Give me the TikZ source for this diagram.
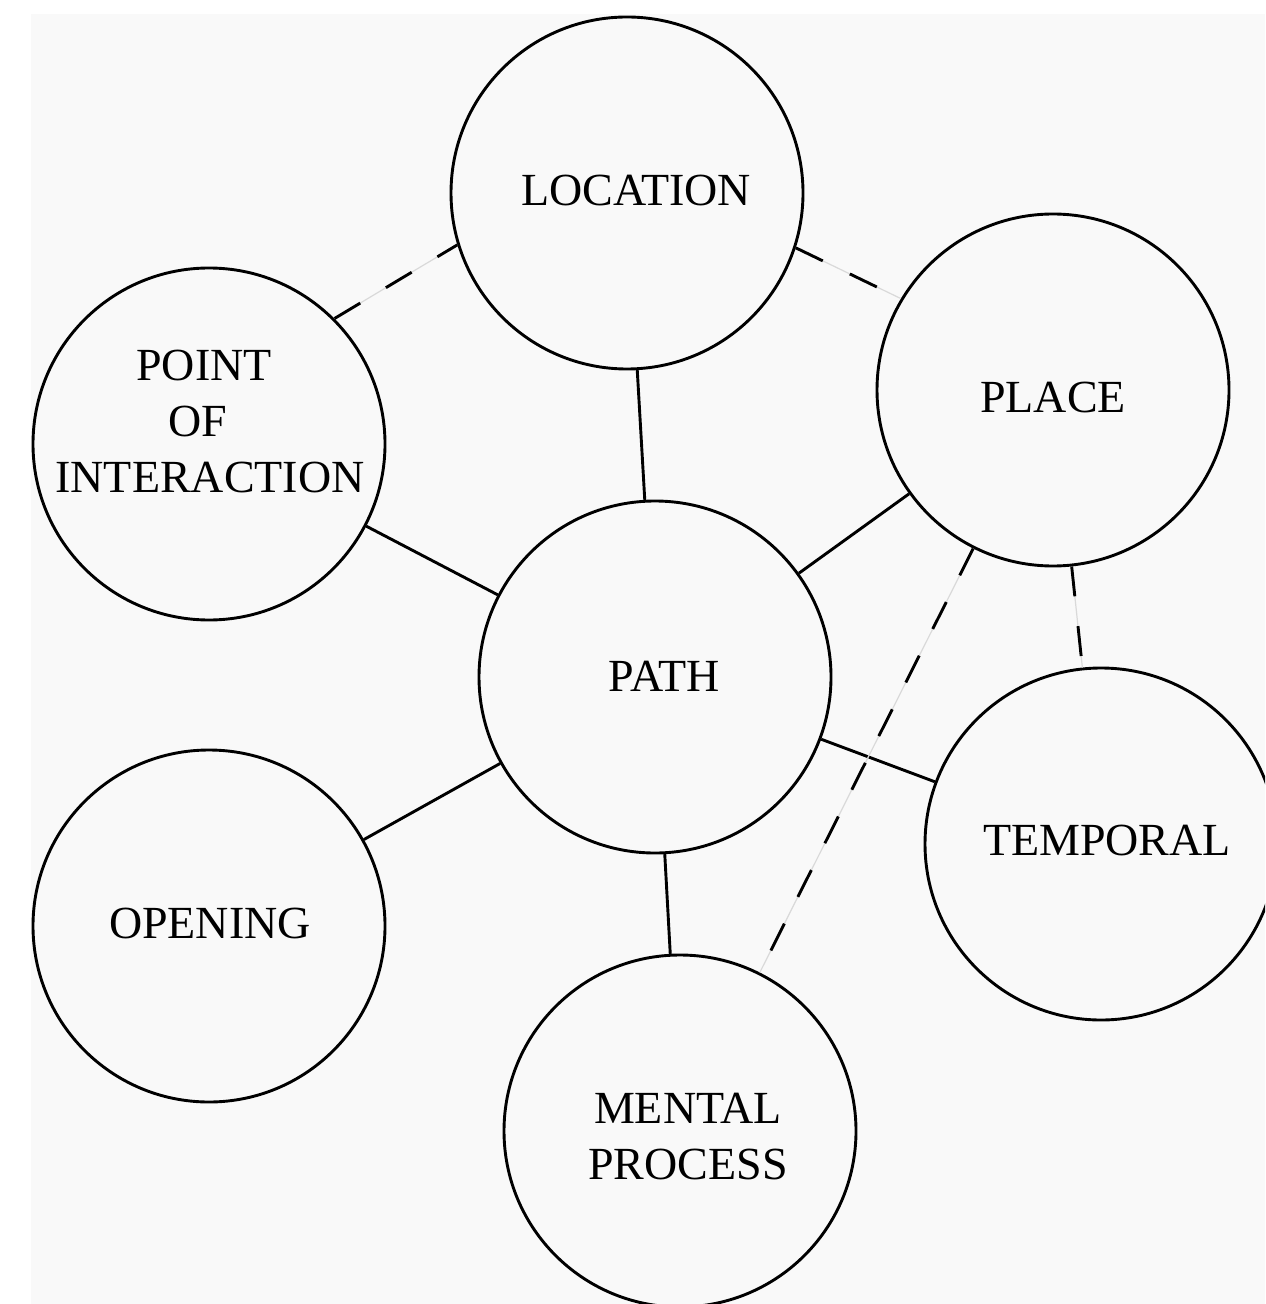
\documentclass[tikz,border=0pt]{standalone}
\usepackage{fontspec}
\setmainfont{Liberation Serif}
\usetikzlibrary{positioning}
\begin{document}
\begin{tikzpicture}[x=0.5pt,y=-0.5pt,
  topic/.style={draw, circle, line width=1.45pt, minimum size=176pt, inner sep=0pt},
  caption/.style={font=\fontsize{23}{28}\selectfont, align=center},
  link/.style={line width=1.45pt},
  weak link/.style={line width=1.45pt, dash pattern=on 15pt off 15pt,
    preaction={draw, solid, gray!30, line width=0.6pt}}]
\useasboundingbox (0,0) rectangle (1265,1304);
\clip (0,0) rectangle (1265,1304);
\fill[white] (0,0) rectangle (1265,1304);
\fill[gray!5] (31,14) rectangle (1265,1304);
% Circles
\node[topic] (location) at (627,193) {};
\node[topic] (place) at (1053,390) {};
\node[topic] (point) at (209,444) {};
\node[topic] (path) at (655,677) {};
\node[topic] (temporal) at (1101,844) {};
\node[topic] (opening) at (209,926) {};
\node[topic] (mental) at (680,1131) {};
% Texts
\node[caption] (location text) at (636,191) {LOCATION};
\node[caption] (place text) at (1053,397) {PLACE};
\node[caption] (point text) at (210,421)
  {\mbox{POINT\hspace{6pt}}\\\mbox{OF\hspace{12pt}}\\INTERACTION};
\node[caption] (path text) at (664,676) {PATH};
\node[caption] (temporal text) at (1107,840) {TEMPORAL};
\node[caption] (opening text) at (210,923) {OPENING};
\node[caption] (mental text) at (688,1137) {MENTAL\\PROCESS};
% Solid links
\draw[link] (path) -- (location);
\draw[link] (path) -- (point);
\draw[link] (path) -- (place);
\draw[link] (path) -- (temporal);
\draw[link] (path) -- (opening);
\draw[link] (path) -- (mental);
% Dashed links
\draw[weak link] (point.45) -- (location.197);
\draw[weak link] (location.-18) -- (place.149);
\draw[weak link] (place) -- (temporal);
\draw[weak link] (place) -- (mental);
\end{tikzpicture}
\end{document}
